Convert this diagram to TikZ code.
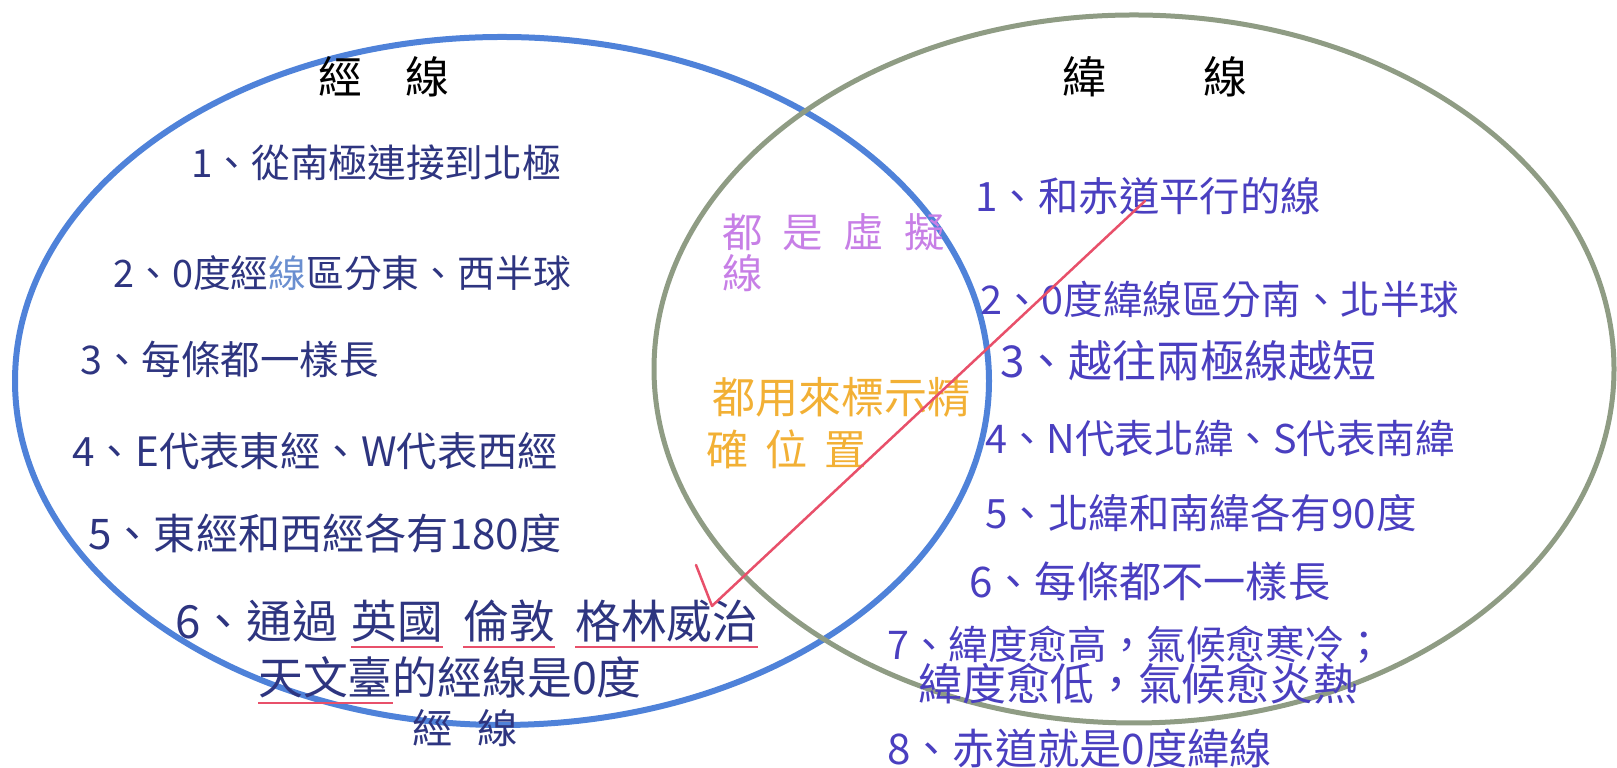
\documentclass[tikz,border=0pt]{standalone}
\usepackage{fontspec}
\newfontfamily\hand{Noto Sans CJK TC}
% subrayado rojo
\newcommand{\redul}[1]{\setbox0\hbox{#1}\rlap{\color{redpen}\rule[-0.22em]{\wd0}{1.3pt}}\box0}
\newcommand{\sz}[1]{\fontsize{#1}{#1}\selectfont}

\begin{document}
\begin{tikzpicture}[x=0.2mm,y=0.2mm,
    every node/.style={font=\hand\sz{22},inner sep=0pt},
    lft/.style={anchor=west,text=inkl},
    rgt/.style={anchor=west,text=inkr},
    title/.style={text=black,font=\hand\sz{25}}]
        %colores
        \definecolor{ringb}{HTML}{4F82D9}
        \definecolor{ringg}{HTML}{8F9C84}
        \definecolor{inkl}{HTML}{2E3580}
        \definecolor{inkr}{HTML}{4A3FC0}
        \definecolor{inklight}{HTML}{6A8FD0}
        \definecolor{lila}{HTML}{C77FE6}
        \definecolor{naranja}{HTML}{F2B035}
        \definecolor{redpen}{HTML}{E8506A}

        \useasboundingbox (0,0) rectangle (1617,768);

        % Circulos
        \draw[ringb,line width=1.2mm] (502,387) ellipse [x radius=487, y radius=344];
        \draw[ringg,line width=1mm] (1134,399) ellipse [x radius=480, y radius=354];

        % Titulos
        \node[title] (tl) at (384,691) {經\hspace{1em}線};
        \node[title] (tr) at (1155,691) {緯\hspace{2.2em}線};

        % Lado izquierdo
        \foreach \n/\s/\x/\y/\txt in {1/22/191/605/1、從南極連接到北極,
            2/21.5/113/495/2、0度經\textcolor{inklight}{線}區分東、西半球,
            3/22.5/80/409/3、每條都一樣長,
            4/23/72/317/4、E代表東經、W代表西經,
            5/24/88/235/5、東經和西經各有180度}
        \node[lft,font=\hand\sz{\s}] (l\n) at (\x,\y) {\txt};
        \node[lft,font=\hand\sz{26}] (l6) at (175,144) {6、通過\hspace{0.3em}\redul{英國}\hspace{0.45em}\redul{倫敦}\hspace{0.45em}\redul{格林威治}};
        \node[lft,font=\hand\sz{25.5}] (l6b) at (258,88) {\redul{天文臺}的經線是0度};
        \node[lft,font=\hand\sz{23}] (l6c) at (412,40) {經\hspace{0.6em}線};

        % Centro
        \node[anchor=west,text=lila,font=\hand\sz{23}] (m1) at (722,536) {都\enspace 是\enspace 虛\enspace 擬};
        \node[anchor=west,text=lila,font=\hand\sz{23}] (m1b) at (722,495) {線};
        \node[anchor=west,text=naranja,font=\hand\sz{24.5}] (m2) at (712,371) {都用來標示精};
        \node[anchor=west,text=naranja,font=\hand\sz{24}] (m2b) at (706,319) {確\hspace{0.4em}位\hspace{0.4em}置};

        % Lado derecho
        \foreach \n/\s/\x/\y/\txt in {1/23/975/572/1、和赤道平行的線,
            2/22.5/980/469/2、0度緯線區分南、北半球,
            3/25/1000/407/3、越往兩極線越短,
            4/22.5/985/330/4、N代表北緯、S代表南緯,
            5/23/985/255/5、北緯和南緯各有90度,
            6/24/969/187/6、每條都不一樣長,
            7/22.5/887/123/7、緯度愈高，氣候愈寒冷；,
            8/24/887/20/8、赤道就是0度緯線}
        \node[rgt,font=\hand\sz{\s}] (r\n) at (\x,\y) {\txt};
        \node[rgt,font=\hand\sz{25}] (r7b) at (918,84) {緯度愈低，氣候愈炎熱};

        % Flecha roja
        \coordinate (dao) at (1145,567);
        \coordinate (tip) at (712,162);
        \coordinate (barb) at (696,203);
        \draw[redpen,line width=0.5mm,line join=round,line cap=round] (dao) -- (tip) -- (barb);
    \end{tikzpicture}
\end{document}
